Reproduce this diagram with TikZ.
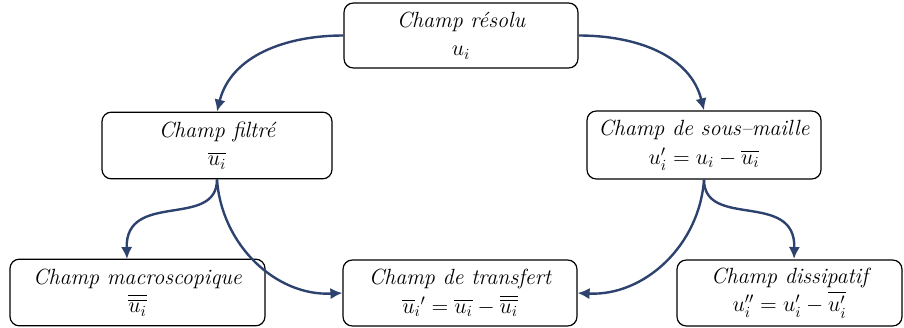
\RequirePackage{fix-cm}
\documentclass[tikz,border=0pt]{standalone}
\usepackage{amsmath}
\usetikzlibrary{arrows.meta}
\definecolor{arrowblue}{RGB}{45,66,110}
\tikzset{
  box/.style={draw=black, line width=0.9pt, rounded corners=7pt, fill=white,
    align=center, inner sep=2pt, font=\fontsize{16.5}{21.5}\selectfont\itshape},
  flow/.style={draw=arrowblue, line width=1.8pt, -{Latex[length=9pt,width=8.5pt]}}
}
\begin{document}
\begin{tikzpicture}[x=0.75pt, y=-0.75pt]
\useasboundingbox (0,0) rectangle (904,328);
\node[box, minimum width=175.5pt, minimum height=48.75pt] (top) at (461,35.5) {Champ résolu\\$u_i$};
\node[box, minimum width=172.5pt, minimum height=50pt] (filt) at (217,145.5) {Champ filtré\\$\overline{u_i}$};
\node[box, minimum width=175.5pt, minimum height=51pt] (sous) at (704,145) {Champ de sous–maille\\$u_i' = u_i - \overline{u_i}$};
\node[box, minimum width=191.25pt, minimum height=50pt] (macro) at (137.5,292.5) {Champ macroscopique\\$\overline{\overline{u_i}}$};
\node[box, minimum width=175.5pt, minimum height=49.5pt] (trans) at (460,293) {Champ de transfert\\$\overline{u}_i{}' = \overline{u_i} - \overline{\overline{u_i}}$};
\node[box, minimum width=168.75pt, minimum height=49.5pt] (diss) at (789.5,293) {Champ dissipatif\\$u_i'' = u_i' - \overline{u_i'}$};
\coordinate (mtop) at (127,259);
\coordinate (dtop) at (794,259);
\draw[flow] (top.west) to[out=180, in=76] (filt.north);
\draw[flow] (top.east) to[out=0, in=104] (sous.north);
\draw[flow] (filt.south) .. controls +(0,50) and (125,190) .. (mtop);
\draw[flow] (filt.south) to[out=-86, in=183] (trans.west);
\draw[flow] (sous.south) .. controls +(0,50) and (796,190) .. (dtop);
\draw[flow] (sous.south) to[out=-94, in=-3] (trans.east);
\end{tikzpicture}
\end{document}
